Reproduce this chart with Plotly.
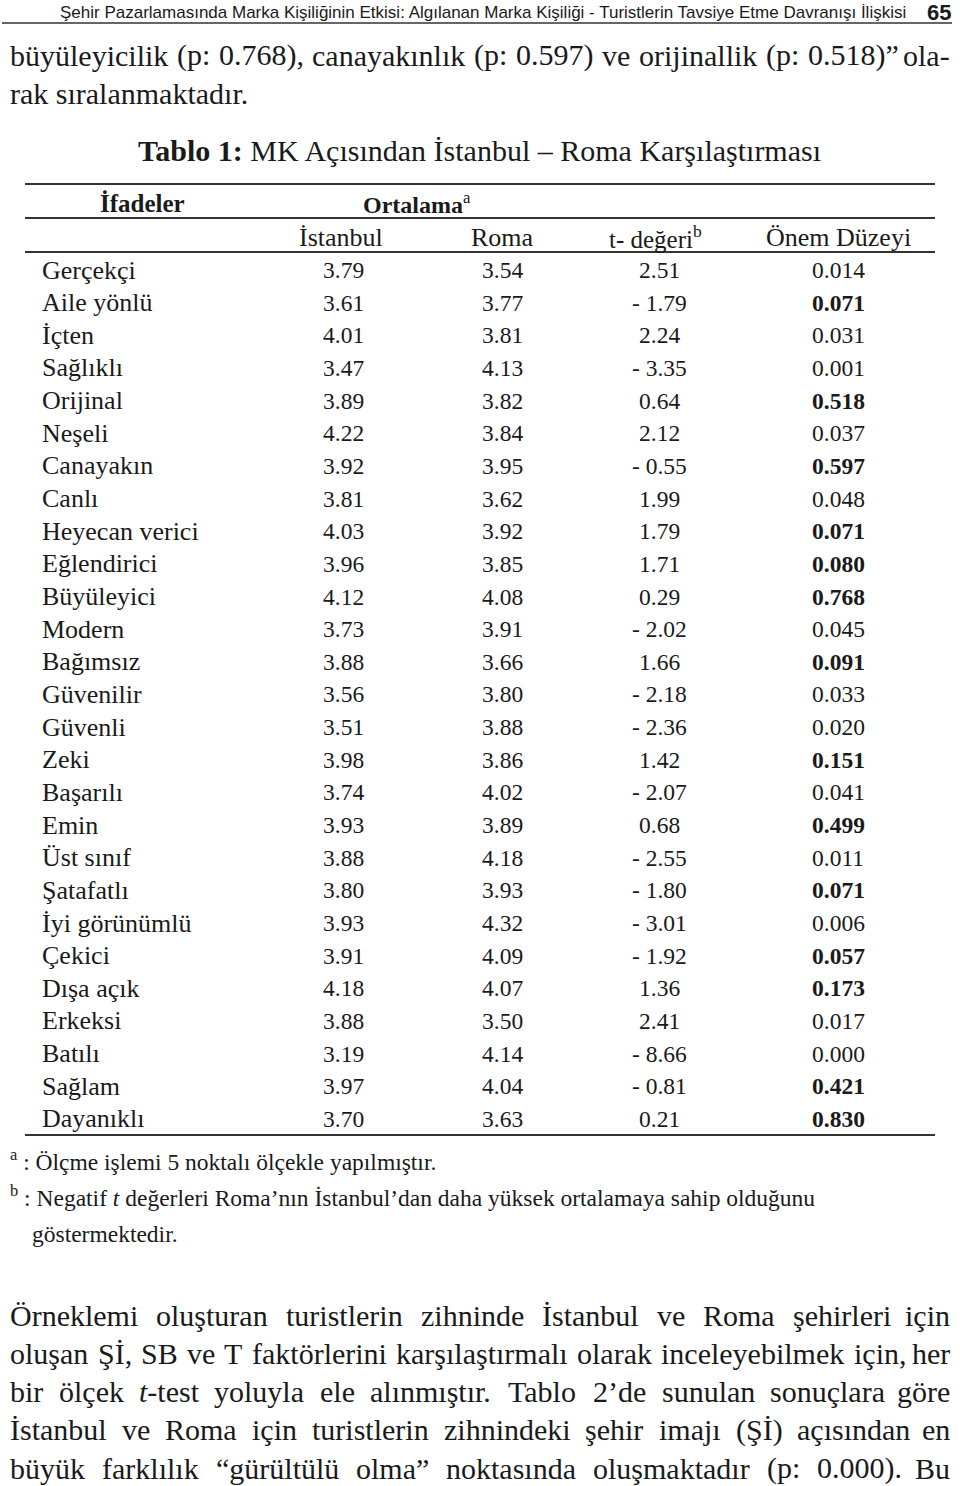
import re
import plotly.graph_objects as go

# ---- data ----
labels = ["Gerçekçi", "Aile yönlü", "İçten", "Sağlıklı", "Orijinal", "Neşeli", "Canayakın",
          "Canlı", "Heyecan verici", "Eğlendirici", "Büyüleyici", "Modern", "Bağımsız",
          "Güvenilir", "Güvenli", "Zeki", "Başarılı", "Emin", "Üst sınıf", "Şatafatlı",
          "İyi görünümlü", "Çekici", "Dışa açık", "Erkeksi", "Batılı", "Sağlam", "Dayanıklı"]
istanbul = [3.79, 3.61, 4.01, 3.47, 3.89, 4.22, 3.92, 3.81, 4.03, 3.96, 4.12, 3.73, 3.88,
            3.56, 3.51, 3.98, 3.74, 3.93, 3.88, 3.80, 3.93, 3.91, 4.18, 3.88, 3.19, 3.97, 3.70]
roma = [3.54, 3.77, 3.81, 4.13, 3.82, 3.84, 3.95, 3.62, 3.92, 3.85, 4.08, 3.91, 3.66,
        3.80, 3.88, 3.86, 4.02, 3.89, 4.18, 3.93, 4.32, 4.09, 4.07, 3.50, 4.14, 4.04, 3.63]
t_values = [2.51, -1.79, 2.24, -3.35, 0.64, 2.12, -0.55, 1.99, 1.79, 1.71, 0.29, -2.02, 1.66,
            -2.18, -2.36, 1.42, -2.07, 0.68, -2.55, -1.80, -3.01, -1.92, 1.36, 2.41, -8.66, -0.81, 0.21]
p_values = [0.014, 0.071, 0.031, 0.001, 0.518, 0.037, 0.597, 0.048, 0.071, 0.080, 0.768, 0.045, 0.091,
            0.033, 0.020, 0.151, 0.041, 0.499, 0.011, 0.071, 0.006, 0.057, 0.173, 0.017, 0.000, 0.421, 0.830]

header_text = "Şehir Pazarlamasında Marka Kişiliğinin Etkisi: Algılanan Marka Kişiliği - Turistlerin Tavsiye Etme Davranışı İlişkisi"
page_no = "65"
intro_lines = ["büyüleyicilik (p: 0.768), canayakınlık (p: 0.597) ve orijinallik (p: 0.518)” ola-",
               "rak sıralanmaktadır."]
title = "<b>Tablo 1:</b> MK Açısından İstanbul – Roma Karşılaştırması"
col_headers = ["İstanbul", "Roma", "t- değeri<sup>b</sup>", "Önem Düzeyi"]
footnotes = ["<sup>a</sup> : Ölçme işlemi 5 noktalı ölçekle yapılmıştır.",
             "<sup>b</sup> : Negatif <i>t</i> değerleri Roma’nın İstanbul’dan daha yüksek ortalamaya sahip olduğunu",
             "göstermektedir."]
body_lines = ["Örneklemi oluşturan turistlerin zihninde İstanbul ve Roma şehirleri için",
              "oluşan Şİ, SB ve T faktörlerini karşılaştırmalı olarak inceleyebilmek için, her",
              "bir ölçek <i>t</i>-test yoluyla ele alınmıştır. Tablo 2’de sunulan sonuçlara göre",
              "İstanbul ve Roma için turistlerin zihnindeki şehir imajı (Şİ) açısından en",
              "büyük farklılık “gürültülü olma” noktasında oluşmaktadır (p: 0.000). Bu"]

# ---- layout constants ----
W, H = 960, 1486
SERIF = "Liberation Serif, Times New Roman, serif"
SANS = "Liberation Sans Narrow, Liberation Sans, Arial, sans-serif"
INK = "#1a1a1a"
row_y0, row_step = 270, 32.65
col_label_x, col_ist_x, col_roma_x, col_t_x, col_p_x = 40, 343, 502, 659, 838
tbl_left, tbl_right = 25, 935
text_left, text_right = 8, 952

# approximate Times-like glyph widths (per 1000 em) for justification
GW = {' ': 250, '.': 250, ',': 250, ':': 278, '(': 333, ')': 333, '“': 444, '”': 444, '’': 333, '-': 333,
      'a': 444, 'b': 500, 'c': 444, 'd': 500, 'e': 444, 'f': 333, 'g': 500, 'h': 500, 'i': 278, 'j': 278,
      'k': 500, 'l': 278, 'm': 778, 'n': 500, 'o': 500, 'p': 500, 'q': 500, 'r': 333, 's': 389, 't': 278,
      'u': 500, 'v': 500, 'w': 722, 'x': 500, 'y': 500, 'z': 444, 'ı': 278, 'ş': 389, 'ç': 444, 'ğ': 500,
      'ü': 500, 'ö': 500, 'A': 722, 'B': 667, 'C': 667, 'D': 722, 'E': 611, 'F': 556, 'G': 722, 'H': 722,
      'I': 333, 'İ': 333, 'J': 389, 'K': 722, 'L': 611, 'M': 889, 'N': 722, 'O': 722, 'Ö': 722, 'P': 556,
      'R': 667, 'S': 556, 'Ş': 556, 'T': 611, 'U': 722, 'Ü': 722, 'V': 722, 'W': 944, 'Y': 722, 'Z': 611,
      'Ç': 667}


def text_w(s, size):
    plain = re.sub(r"<[^>]+>", "", s)
    return sum(GW.get(ch, 500) for ch in plain) / 1000.0 * size


fig = go.Figure()
ann = []


def add(text, x, y, size, xanchor="left", family=SERIF, color=INK):
    ann.append(dict(text=text, x=x, y=y, xref="x", yref="y", xanchor=xanchor, yanchor="middle",
                    showarrow=False, font=dict(family=family, size=size, color=color)))


def add_justified(line, y, size):
    words = line.split(" ")
    widths = [text_w(w, size) for w in words]
    gap = (text_right - text_left - sum(widths)) / (len(words) - 1)
    x = text_left
    for k, (w, ww) in enumerate(zip(words, widths)):
        if k == len(words) - 1:
            add(w, text_right, y, size, xanchor="right")
        else:
            add(w, x, y, size)
        x += ww + gap


# running header
add(header_text, 58, 12, 17, family=SANS)
add("<b>" + page_no + "</b>", 953, 12, 22, xanchor="right", family=SANS)

# intro text
add_justified(intro_lines[0], 55, 30)
add(intro_lines[1], text_left, 93, 30)

# table title
add(title, 479, 150, 30, xanchor="center")

# header rows
add("<b>İfadeler</b>", 142, 203, 25, xanchor="center")
add("<b>Ortalama</b><sup>a</sup>", 361, 203, 24)
add(col_headers[0], col_ist_x - 2, 237, 26, xanchor="center")
add(col_headers[1], col_roma_x, 237, 26, xanchor="center")
add(col_headers[2], 655, 237, 25, xanchor="center")
add(col_headers[3], col_p_x, 237, 26, xanchor="center")

# body rows
for i, lab in enumerate(labels):
    y = row_y0 + i * row_step
    add(lab, col_label_x, y, 26)
    add(f"{istanbul[i]:.2f}", col_ist_x, y, 23.5, xanchor="center")
    add(f"{roma[i]:.2f}", col_roma_x, y, 23.5, xanchor="center")
    t = t_values[i]
    ttxt = f"- {abs(t):.2f}" if t < 0 else f"{t:.2f}"
    add(ttxt, col_t_x, y, 23.5, xanchor="center")
    p = p_values[i]
    ptxt = f"{p:.3f}"
    if p > 0.05:
        ptxt = f"<b>{ptxt}</b>"
    add(ptxt, col_p_x, y, 23.5, xanchor="center")

# footnotes
add(footnotes[0], text_left, 1160, 23.5)
add(footnotes[1], text_left, 1196, 23.5)
add(footnotes[2], 30, 1234, 23.5)

# body paragraph (justified)
for i, line in enumerate(body_lines):
    add_justified(line, 1315 + i * 38.3, 30)

# rules
line_style = dict(color="#333333", width=2)
shapes = [dict(type="line", x0=2, x1=952, y0=23, y1=23, xref="x", yref="y",
               line=dict(color="#333333", width=1.5))]
for yy in [184, 218, 252, 1135]:
    shapes.append(dict(type="line", x0=tbl_left, x1=tbl_right, y0=yy, y1=yy, xref="x", yref="y", line=line_style))

fig.update_layout(
    width=W, height=H, margin=dict(l=0, r=0, t=0, b=0),
    paper_bgcolor="white", plot_bgcolor="white",
    xaxis=dict(range=[0, W], visible=False, fixedrange=True),
    yaxis=dict(range=[H, 0], visible=False, fixedrange=True),
    annotations=ann, shapes=shapes, showlegend=False,
)

fig.write_html("out.html",
               config={"displayModeBar": False, "staticPlot": True},
               post_script="document.body.style.margin='0';document.body.style.overflow='hidden';")
